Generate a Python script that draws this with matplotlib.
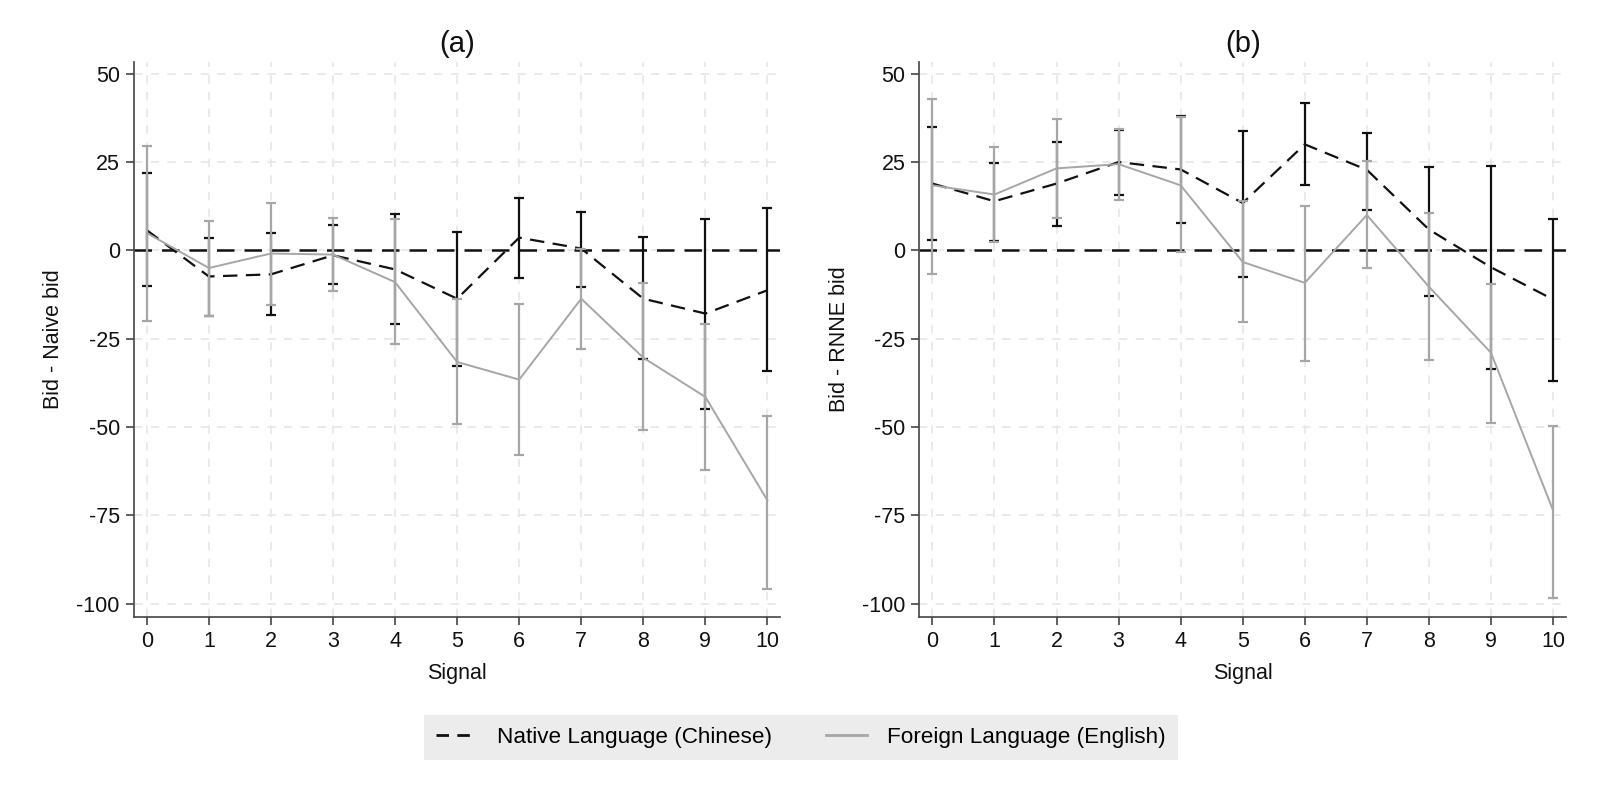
import matplotlib
matplotlib.use("Agg")
import matplotlib.pyplot as plt
from matplotlib.lines import Line2D
import numpy as np

plt.rcParams['font.family'] = ['Liberation Sans', 'DejaVu Sans']
plt.rcParams['axes.unicode_minus'] = False

signal = list(range(11))

# Panel (a): Bid - Naive bid
a_native = [5.7, -7.4, -6.8, -1.4, -5.4, -13.7, 3.6, 0.5, -13.7, -17.9, -11.3]
a_native_hi = [21.9, 3.5, 4.9, 7.1, 10.2, 5.2, 14.8, 10.8, 3.8, 9.0, 12.1]
a_native_lo = [-10.2, -18.5, -18.2, -9.6, -20.8, -32.8, -7.8, -10.4, -30.9, -44.9, -34.2]
a_foreign = [4.9, -5.0, -0.9, -1.2, -9.0, -31.6, -36.6, -13.7, -30.4, -41.5, -70.8]
a_foreign_hi = [29.4, 8.3, 13.5, 9.1, 9.0, -13.7, -15.1, 0.5, -9.2, -20.8, -46.9]
a_foreign_lo = [-20.1, -18.5, -15.6, -11.6, -26.6, -49.3, -58.0, -27.8, -50.9, -62.3, -95.9]

# Panel (b): Bid - RNNE bid
b_native = [18.9, 13.9, 18.9, 25.0, 22.9, 13.4, 30.0, 22.8, 5.9, -4.8, -13.9]
b_native_hi = [35.0, 24.8, 30.7, 34.2, 38.0, 33.9, 41.8, 33.1, 23.7, 24.0, 8.9]
b_native_lo = [2.9, 2.7, 7.0, 15.8, 7.8, -7.5, 18.4, 11.5, -12.9, -33.7, -37.1]
b_foreign = [18.4, 15.8, 23.2, 24.4, 18.4, -3.3, -9.2, 10.0, -10.3, -29.0, -73.6]
b_foreign_hi = [42.9, 29.2, 37.3, 34.3, 37.7, 14.0, 12.5, 25.2, 10.6, -9.5, -49.7]
b_foreign_lo = [-6.6, 2.5, 9.2, 14.3, -0.4, -20.4, -31.2, -5.0, -31.1, -48.8, -98.3]

titles = ["(a)", "(b)"]
ylabels = ["Bid - Naive bid", "Bid - RNNE bid"]
legend_labels = ["Native Language (Chinese)", "Foreign Language (English)"]
xticks = list(range(11))
yticks = [-100, -75, -50, -25, 0, 25, 50]

BLACK = "#111111"
GRAY = "#a6a6a6"
GRID = "#e6e6e6"
SPINE = "#444444"

fig = plt.figure(figsize=(16, 7.88), dpi=100)
ax_a = fig.add_axes([0.0836, 0.217, 0.4042, 0.7047])
ax_b = fig.add_axes([0.5746, 0.217, 0.4042, 0.7047])

panels = [
    (ax_a, a_native, a_native_lo, a_native_hi, a_foreign, a_foreign_lo, a_foreign_hi),
    (ax_b, b_native, b_native_lo, b_native_hi, b_foreign, b_foreign_lo, b_foreign_hi),
]

for i, (ax, nat, nlo, nhi, forg, flo, fhi) in enumerate(panels):
    x = np.array(signal)
    nat = np.array(nat); nlo = np.array(nlo); nhi = np.array(nhi)
    forg = np.array(forg); flo = np.array(flo); fhi = np.array(fhi)

    ax.set_xlim(-0.21, 10.21)
    ax.set_ylim(-103.8, 53.4)
    ax.set_xticks(xticks)
    ax.set_yticks(yticks)
    ax.grid(True, color=GRID, linestyle=(0, (5, 5)), linewidth=1.2, zorder=0)
    ax.set_axisbelow(True)

    ax.axhline(0, color=BLACK, linewidth=1.8, linestyle=(0, (7, 4)), zorder=2)

    ax.errorbar(x, nat, yerr=[nat - nlo, nhi - nat], fmt='none', ecolor=BLACK,
                elinewidth=1.6, capsize=3.5, capthick=1.6, zorder=3)
    ax.plot(x, nat, color=BLACK, linewidth=1.6, dashes=(6.5, 3.8), zorder=4)
    ax.errorbar(x, forg, yerr=[forg - flo, fhi - forg], fmt='none', ecolor=GRAY,
                elinewidth=1.6, capsize=3.5, capthick=1.6, zorder=5)
    ax.plot(x, forg, color=GRAY, linewidth=1.4, zorder=6)

    for side in ["top", "right"]:
        ax.spines[side].set_visible(False)
    for side in ["left", "bottom"]:
        ax.spines[side].set_color(SPINE)
        ax.spines[side].set_linewidth(1.2)
    ax.tick_params(axis='both', direction='out', length=6, width=1.2, color=SPINE,
                   labelsize=15.5, labelcolor="#111111", pad=4)
    ax.set_title(titles[i], fontsize=21, pad=7, color="#111111")
    ax.set_xlabel("Signal", fontsize=15.5, color="#111111", labelpad=8)
    ax.set_ylabel(ylabels[i], fontsize=15.5, color="#111111", labelpad=9)

handles = [
    Line2D([0], [0], color=BLACK, linewidth=2.0, dashes=(4.5, 3.0)),
    Line2D([0], [0], color=GRAY, linewidth=2.0),
]
leg = fig.legend(handles, legend_labels, loc='center', bbox_to_anchor=(0.5006, 0.064),
                 ncol=2, fontsize=16.2, frameon=True, fancybox=False,
                 handlelength=1.8, handletextpad=0.9, columnspacing=2.4,
                 borderpad=0.55, borderaxespad=0)
leg.get_frame().set_facecolor("#ececec")
leg.get_frame().set_edgecolor("none")
leg.get_frame().set_alpha(1)

fig.savefig("out.png", dpi=100, facecolor="white")
